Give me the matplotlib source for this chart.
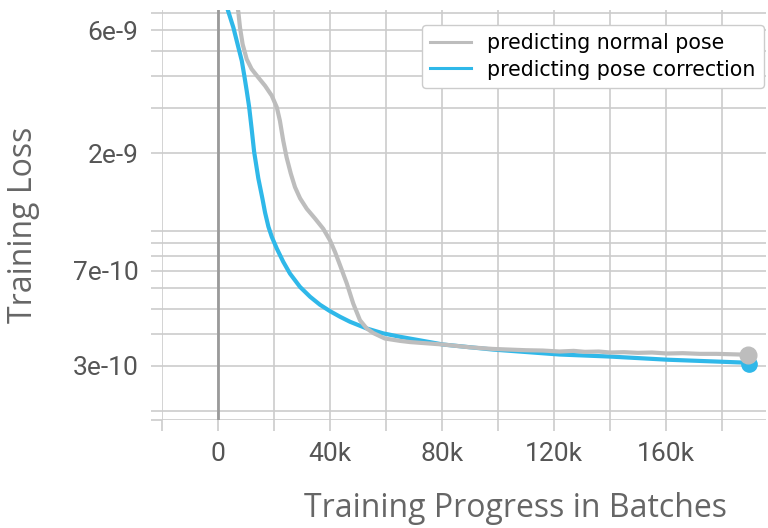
import matplotlib
matplotlib.use("Agg")
import matplotlib.pyplot as plt
from matplotlib.lines import Line2D
from matplotlib.ticker import NullLocator

# training curves (step, loss)
normal_steps = [0, 7250, 7860, 8800, 10250, 12000, 14400, 16800, 19200, 21000,
                22100, 23300, 24500, 26000, 27500, 29300, 31700, 34600, 37600,
                40000, 41800, 43600, 46000, 48300, 50700, 53100, 55500, 59600,
                65000, 68600, 80400, 90000, 98200, 104000, 110000, 116000, 122000,
                127000, 131000, 136000, 140000, 145000, 150000, 155000, 160400,
                166000, 172000, 178000, 186400, 189300]
normal_loss = [1.9e-8, 7.09e-9, 6.15e-9, 5.3e-9, 4.64e-9, 4.25e-9, 3.94e-9, 3.66e-9,
               3.35e-9, 3.02e-9, 2.68e-9, 2.24e-9, 1.93e-9, 1.67e-9, 1.48e-9,
               1.34e-9, 1.22e-9, 1.12e-9, 1.02e-9, 9.2e-10, 8.29e-10, 7.36e-10,
               6.26e-10, 5.23e-10, 4.51e-10, 4.19e-10, 4.02e-10, 3.83e-10, 3.75e-10,
               3.71e-10, 3.63e-10, 3.54e-10, 3.49e-10, 3.47e-10, 3.45e-10, 3.44e-10,
               3.41e-10, 3.43e-10, 3.40e-10, 3.41e-10, 3.38e-10, 3.39e-10, 3.37e-10,
               3.38e-10, 3.35e-10, 3.36e-10, 3.34e-10, 3.34e-10, 3.32e-10, 3.32e-10]

corr_steps = [0, 3700, 5500, 7000, 8500, 9400, 10250, 11100, 12000, 12900, 14400,
              15900, 16800, 18000, 19200, 21000, 23300, 25700, 29300, 32900, 36400,
              40000, 43600, 47100, 53100, 59000, 65000, 80400, 98200, 122000, 140000,
              160400, 187500, 189800]
corr_loss = [9.5e-9, 7.09e-9, 6.15e-9, 5.3e-9, 4.57e-9, 4.0e-9, 3.5e-9, 3.04e-9,
             2.5e-9, 2.03e-9, 1.6e-9, 1.33e-9, 1.18e-9, 1.04e-9, 9.5e-10, 8.55e-10,
             7.6e-10, 6.84e-10, 6.07e-10, 5.56e-10, 5.18e-10, 4.89e-10, 4.65e-10,
             4.45e-10, 4.19e-10, 4.01e-10, 3.89e-10, 3.63e-10, 3.47e-10, 3.32e-10,
             3.26e-10, 3.17e-10, 3.09e-10, 3.05e-10]

series_names = ["predicting normal pose", "predicting pose correction"]

x_ticks = [-20000, 0, 20000, 40000, 60000, 80000, 100000, 120000, 140000, 160000, 180000]
x_tick_labels = ["", "0", "", "40k", "", "80k", "", "120k", "", "160k", ""]
y_ticks = [1.85e-10, 2e-10, 3e-10, 4e-10, 5e-10, 6e-10, 7e-10, 8e-10, 9e-10,
           1e-9, 2e-9, 3e-9, 4e-9, 5e-9, 6e-9, 7e-9]
y_tick_labels = ["", "", "3e-10", "", "", "", "7e-10", "", "", "", "2e-9", "", "", "", "6e-9", ""]

GRAY = "#bdbdbd"
BLUE = "#2fb8e9"
GRID = "#cccccc"

fig = plt.figure(figsize=(7.68, 5.28), dpi=100)
ax = fig.add_axes([162 / 768, 108 / 528, 604 / 768, 410 / 528])

ax.set_yscale("log")
ax.set_xlim(-20000, 195700)
ax.set_ylim(1.85e-10, 7.2e-9)

ax.plot(corr_steps, corr_loss, color=BLUE, lw=3, zorder=3, solid_capstyle="round")
ax.plot(normal_steps, normal_loss, color=GRAY, lw=3, zorder=4, solid_capstyle="round")
ax.plot(corr_steps[-1], corr_loss[-1], "o", color=BLUE, ms=11, zorder=5, clip_on=False)
ax.plot(normal_steps[-1], normal_loss[-1], "o", color=GRAY, ms=12, zorder=6, clip_on=False)
ax.axvline(0, color="#9a9a9a", lw=2, zorder=2)

ax.set_xticks(x_ticks)
ax.set_xticklabels(x_tick_labels)
ax.set_yticks(y_ticks)
ax.set_yticklabels(y_tick_labels)
ax.yaxis.set_minor_locator(NullLocator())
ax.xaxis.set_minor_locator(NullLocator())

ax.grid(True, color=GRID, lw=1.2, zorder=1)
ax.set_axisbelow(True)
for s in ax.spines.values():
    s.set_visible(False)
ax.tick_params(axis="both", length=8, width=1.2, color=GRID, labelcolor="#555555",
               labelsize=19)
ax.tick_params(axis="x", pad=8)
ax.tick_params(axis="y", pad=9)
for lbl in ax.get_xticklabels() + ax.get_yticklabels():
    lbl.set_family("Roboto")

ax.set_xlabel("Training Progress in Batches", fontsize=23, color="#666666",
              family="Open Sans")
ax.xaxis.set_label_coords(0.586, -0.217)
ax.xaxis.label.set_va("center")
ax.set_ylabel("Training Loss", fontsize=23, color="#666666", family="Open Sans")
ax.yaxis.set_label_coords(-0.2285, 0.4756)
ax.yaxis.label.set_va("center")

handles = [Line2D([], [], color=GRAY, lw=2.2), Line2D([], [], color=BLUE, lw=2.2)]
ax.legend(handles, series_names, loc="upper right", bbox_to_anchor=(0.9967, 0.963),
          borderaxespad=0, fontsize=14.8, framealpha=1, labelspacing=0.3)

plt.savefig("out.png", dpi=100, facecolor="white")
plt.close()
